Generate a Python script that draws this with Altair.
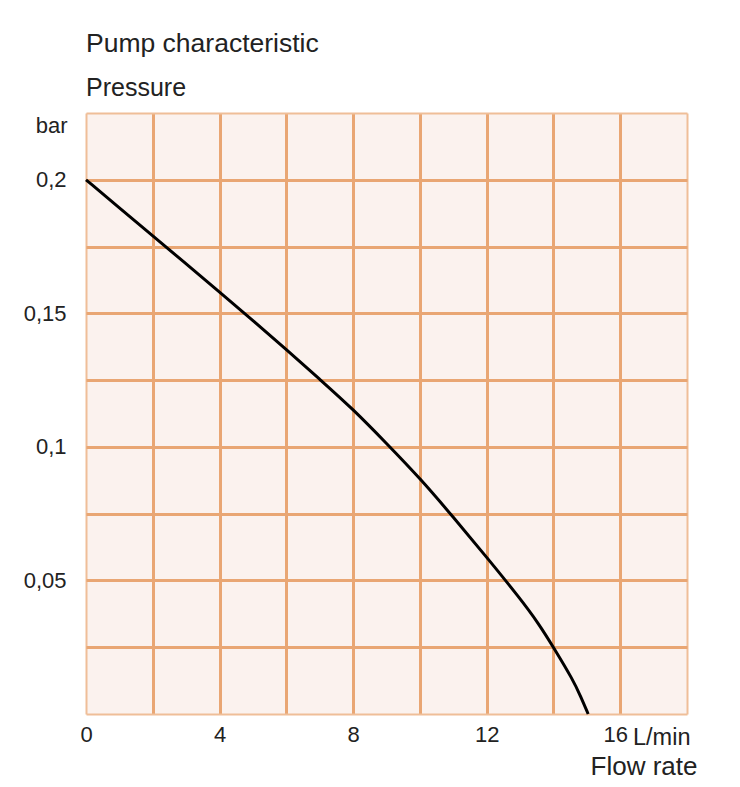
import altair as alt
import pandas as pd

# Curve (flow rate L/min, pressure bar)
flow = [0, 1, 2, 3, 4, 5, 6, 7, 8, 9, 10, 11, 12, 13, 13.55, 14, 14.59, 14.82, 15.04]
pressure = [0.200, 0.1895, 0.179, 0.1685, 0.158, 0.1473, 0.1365, 0.1253, 0.1141,
            0.1013, 0.0883, 0.0737, 0.0587, 0.0433, 0.034, 0.025, 0.0127, 0.0065, 0.0]

x_grid = [0, 2, 4, 6, 8, 10, 12, 14, 16, 18]
x_labels = {0: "0", 4: "4", 8: "8", 12: "12", 16: "16"}
y_grid = [0, 0.025, 0.05, 0.075, 0.1, 0.125, 0.15, 0.175, 0.2, 0.225]
y_labels = {0.05: "0,05", 0.1: "0,1", 0.15: "0,15", 0.2: "0,2"}

df = pd.DataFrame({"flow": flow, "pressure": pressure})

GRID = "#E9A673"
EDGE = "#EFBE98"
TXT = "#222222"
SANS = "Liberation Sans, Arial, Helvetica, sans-serif"

x_expr = " : ".join(f"datum.value == {k} ? '{v}'" for k, v in x_labels.items()) + " : ''"
y_expr = " : ".join(f"abs(datum.value - {k}) < 0.001 ? '{v}'" for k, v in y_labels.items()) + " : ''"

x_axis = alt.Axis(
    values=x_grid, labelExpr=x_expr, grid=True, domain=False, ticks=False, tickSize=0,
    gridColor={"condition": {"test": "datum.value == 0 || datum.value == 18", "value": EDGE}, "value": GRID},
    gridWidth={"condition": {"test": "datum.value == 0 || datum.value == 18", "value": 2}, "value": 3},
    gridOpacity=1, labelFont=SANS, labelFontSize=22, labelColor=TXT, labelPadding=10,
    labelOffset={"condition": {"test": "datum.value == 16", "value": -5}, "value": 0},
    labelFlush=False, labelOverlap=False,
    title="Flow rate", titleFont=SANS, titleFontSize=26, titleFontWeight="normal", titleColor=TXT,
    titleX=611, titleY=60, titleAlign="right", titleBaseline="alphabetic", titleAnchor="end",
)
y_axis = alt.Axis(
    values=y_grid, labelExpr=y_expr, grid=True, domain=False, ticks=False, tickSize=0,
    gridColor={"condition": {"test": "datum.value < 0.001 || datum.value > 0.224", "value": EDGE}, "value": GRID},
    gridWidth={"condition": {"test": "datum.value < 0.001 || datum.value > 0.224", "value": 2}, "value": 3},
    gridOpacity=1, labelFont=SANS, labelFontSize=22, labelColor=TXT, labelPadding=20,
    labelFlush=False, labelOverlap=False,
    title="bar", titleFont=SANS, titleFontSize=22, titleFontWeight="normal", titleColor=TXT,
    titleAngle=0, titleX=-19, titleY=19, titleAlign="right", titleBaseline="alphabetic",
)

line = alt.Chart(df).mark_line(color="black", strokeWidth=3, interpolate="basis").encode(
    x=alt.X("flow:Q", scale=alt.Scale(domain=[0, 18], nice=False, zero=False), axis=x_axis),
    y=alt.Y("pressure:Q", scale=alt.Scale(domain=[0, 0.225], nice=False), axis=y_axis),
)

unit = alt.Chart(pd.DataFrame({"t": ["L/min"]})).mark_text(
    font=SANS, fontSize=23.5, color=TXT, align="left", baseline="alphabetic"
).encode(text="t:N", x=alt.value(547), y=alt.value(632))

chart = alt.layer(line, unit).properties(
    width=601, height=601,
    title=alt.TitleParams(
        text="Pump characteristic", subtitle="Pressure", anchor="start", frame="group",
        font=SANS, fontSize=26.5, fontWeight="normal", color=TXT,
        subtitleFont=SANS, subtitleFontSize=25, subtitleColor=TXT, subtitlePadding=19, offset=1,
    ),
    autosize=alt.AutoSizeParams(type="none"),
    padding={"left": 78, "top": 105, "right": 45, "bottom": 65},
    background="white",
).configure_view(fill="#FBF2EE", stroke=None)

chart.save("out.html", embed_options={"renderer": "svg", "actions": False})
